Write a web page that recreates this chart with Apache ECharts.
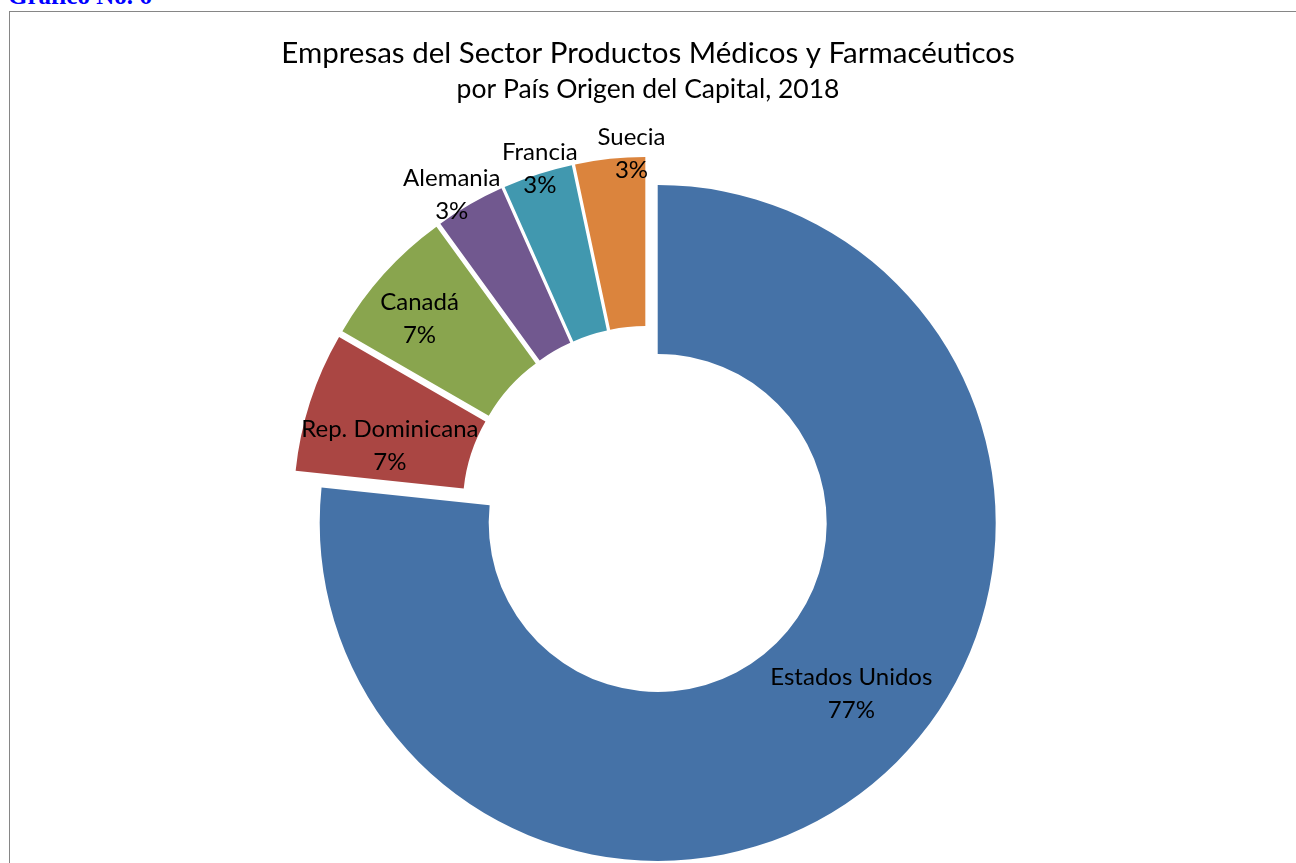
<!DOCTYPE html>
<html>
<head>
<meta charset="utf-8">
<script src="https://cdn.jsdelivr.net/npm/echarts@6/dist/echarts.min.js"></script>
<style>
  html, body { margin: 0; padding: 0; width: 1296px; height: 863px; overflow: hidden; background: #fff; }
  .grafico { position: absolute; left: 8px; top: -17px; font: bold 25px/25px "Liberation Serif", serif; color: #0000ff; }
  .marco { position: absolute; left: 9px; top: 11px; width: 1400px; height: 1000px; border: 1px solid #868686; }
  #pie { position: absolute; left: 0; top: 0; width: 1296px; height: 863px; }
</style>
</head>
<body>
<div class="grafico">Gráfico No. 6</div>
<div class="marco"></div>
<div id="pie"></div>
<script>
// datos del grafico (numero de empresas por pais)
const paises = ["Estados Unidos", "Rep. Dominicana", "Canadá", "Alemania", "Francia", "Suecia"];
const empresas = [23, 2, 2, 1, 1, 1];
const colores = ["#4572A7", "#AA4643", "#89A54E", "#71588F", "#4198AF", "#DB843D"];

// ajuste fino de las etiquetas (dx, dy)
const ajusteEtiqueta = [[22, -20], [2, 19], [-25, -10], [-59, -80], [-23, -83], [13, -86]];

let myChart = echarts.init(document.getElementById("pie"));
let option = {
  animation: false,
  title: {
    text: "Empresas del Sector Productos Médicos y Farmacéuticos",
    subtext: "por País Origen del Capital, 2018",
    left: "center",
    top: 33,
    itemGap: 8,
    textStyle: { fontFamily: "Lato", fontWeight: "normal", fontSize: 29.5, color: "#000" },
    subtextStyle: { fontFamily: "Lato", fontSize: 26.5, color: "#000" },
  },
  series: [
    {
      type: "pie",
      center: [647, 511],
      radius: [169, 338],
      startAngle: 90,
      clockwise: true,
      selectedMode: "multiple",
      selectedOffset: 16,
      percentPrecision: 0,
      avoidLabelOverlap: false,
      emphasis: { disabled: true },
      label: {
        show: true,
        position: "inside",
        formatter: "{b}\n{d}%",
        fontFamily: "Lato",
        fontSize: 24,
        lineHeight: 33,
        color: "#000",
      },
      labelLine: { show: false },
      labelLayout: function (params) {
        let a = ajusteEtiqueta[params.dataIndex];
        return { dx: a[0], dy: a[1] };
      },
      data: paises.map(function (p, i) {
        return {
          name: p,
          value: empresas[i],
          selected: true,
          itemStyle: { color: colores[i] },
          select: { itemStyle: { color: colores[i], borderWidth: 0 } },
        };
      }),
    },
  ],
};
myChart.setOption(option);
</script>
</body>
</html>
